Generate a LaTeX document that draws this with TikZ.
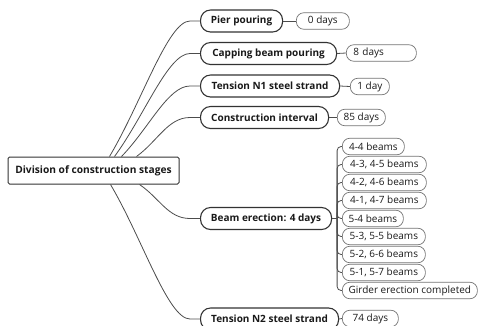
\documentclass[tikz,border=0pt]{standalone}
\usepackage{fontspec}
\setmainfont{Open Sans}
\usetikzlibrary{calc}
\begin{document}
\begin{tikzpicture}[x=1pt,y=-1pt,
  rootbox/.style={draw=black!80, line width=1pt, rounded corners=1.5pt, font=\bfseries\fontsize{10.2}{12}\selectfont, text=black!90, inner sep=0pt, minimum width=171pt, minimum height=27pt},
  lone/.style={draw=black!80, line width=1.1pt, rounded corners=10pt, font=\bfseries\fontsize{10}{12}\selectfont, text=black!90, inner sep=0pt, anchor=west, minimum height=22pt},
  ltwo/.style={draw=black!55, line width=0.7pt, rounded corners=7.5pt, font=\fontsize{10}{12}\selectfont, text=black!90, inner sep=0pt, anchor=west, minimum height=16.5pt},
  conn/.style={draw=black!70, line width=0.8pt}]
\useasboundingbox (0,0) rectangle (478,325);

\node[rootbox] (R) at (93.5,170.5) {Division of construction stages};

\node[lone, minimum width=82pt]  (P)  at (200,21)    {Pier pouring};
\node[lone, minimum width=136pt] (C)  at (200,53.5)  {Capping beam pouring};
\node[lone, minimum width=139pt] (N1) at (200,86)    {Tension N1 steel strand};
\node[lone, minimum width=128pt] (CI) at (200,117.5) {Construction interval};
\node[lone, minimum width=131pt] (B)  at (200,218.5) {Beam erection: 4 days};
\node[lone, minimum width=138pt] (N2) at (200,319)   {Tension N2 steel strand};

\node[ltwo, minimum width=53pt] (P2) at (296,21) {0 days};
\node[ltwo, text width=56pt, inner xsep=7pt, align=left] (C2) at (346,53) {8 days};
\node[ltwo, minimum width=39pt] (N12) at (350,86.5) {1 day};
\node[ltwo, minimum width=48pt] (CI2) at (337,117.5) {85 days};
\node[ltwo, minimum width=56pt] (N22) at (342,318.5) {74 days};

\node[ltwo, minimum width=62pt]  (b1) at (342,146.5) {4-4 beams};
\node[ltwo, minimum width=84pt]  (b2) at (342,164.5) {4-3, 4-5 beams};
\node[ltwo, minimum width=84pt]  (b3) at (342,182.5) {4-2, 4-6 beams};
\node[ltwo, minimum width=84pt]  (b4) at (342,200.5) {4-1, 4-7 beams};
\node[ltwo, minimum width=61pt]  (b5) at (342,218.5) {5-4 beams};
\node[ltwo, minimum width=83pt]  (b6) at (342,236.5) {5-3, 5-5 beams};
\node[ltwo, minimum width=83pt]  (b7) at (342,254.5) {5-2, 6-6 beams};
\node[ltwo, minimum width=83pt]  (b8) at (342,272.5) {5-1, 5-7 beams};
\node[ltwo, minimum width=135pt] (b9) at (342,290.5) {Girder erection completed};

% root connectors
\foreach \s/\t in {110/P, 115/C, 122/N1, 137/CI} {
  \coordinate (s) at ($(R.north west)+(\s-8,0)$);
  \coordinate (e) at ($(\t.west)+(-10,0)$);
  \draw[conn] (s) .. controls ($(s)!0.4!(e)$) and ($(e)+(-22,0)$) .. (e) -- (\t.west);
}
\foreach \s/\t in {140/B, 111/N2} {
  \coordinate (s) at ($(R.south west)+(\s-8,0)$);
  \coordinate (e) at ($(\t.west)+(-10,0)$);
  \draw[conn] (s) .. controls ($(s)!0.4!(e)$) and ($(e)+(-22,0)$) .. (e) -- (\t.west);
}

% level two connectors
\draw[conn] (P.east) -- (P2.west);
\draw[conn] (C.east) -- (C2.west);
\draw[conn] (N1.east) -- (N12.west);
\draw[conn] (CI.east) -- (CI2.west);
\draw[conn] (N2.east) -- (N22.west);

\coordinate (bj) at ($(B.east)+(5,0)$);
\draw[conn] (B.east) -- (bj);
\foreach \c in {b1,b2,b3,b4,b5,b6,b7,b8,b9} {
  \draw[conn, rounded corners=4pt] (bj) |- (\c.west);
}
\end{tikzpicture}
\end{document}
